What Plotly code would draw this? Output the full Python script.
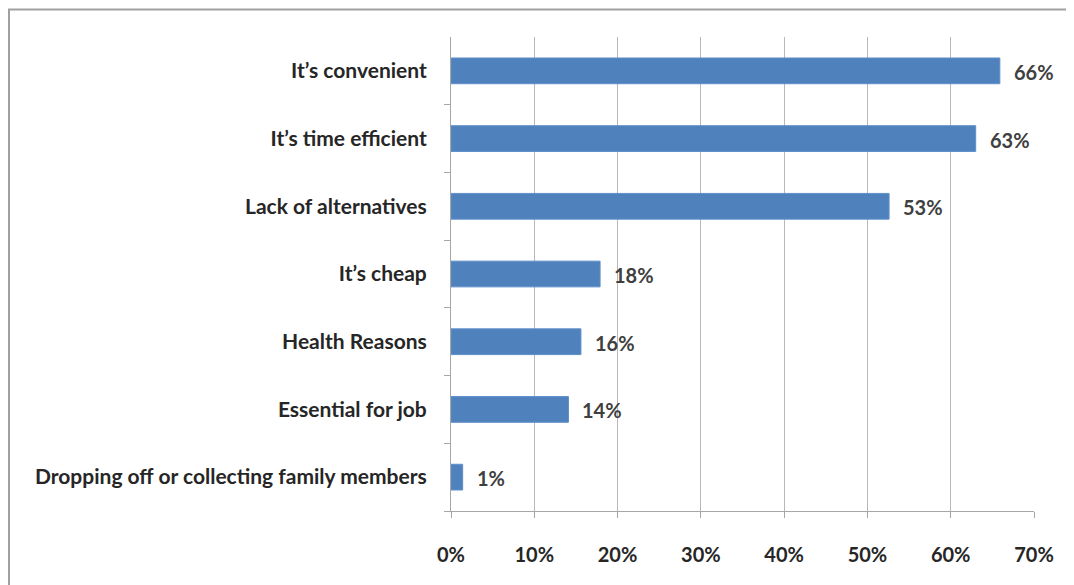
import plotly.graph_objects as go

categories = [
    "It\u2019s convenient",
    "It\u2019s time efficient",
    "Lack of alternatives",
    "It\u2019s cheap",
    "Health Reasons",
    "Essential for job",
    "Dropping off or collecting family members",
]
values = [65.9, 63.0, 52.6, 17.9, 15.6, 14.1, 1.4]
value_labels = ["66%", "63%", "53%", "18%", "16%", "14%", "1%"]
x_ticks = [0, 10, 20, 30, 40, 50, 60, 70]
x_tick_labels = [f"{t}%" for t in x_ticks]

FONT = "Lato, 'Open Sans', sans-serif"
FSIZE = 20

fig = go.Figure(
    go.Bar(
        x=values,
        y=categories,
        orientation="h",
        marker=dict(color="#4F81BD", line=dict(color="#5F8FCA", width=1)),
        width=0.38,
        hoverinfo="x+y",
    )
)

for c, v, t in zip(categories, values, value_labels):
    fig.add_annotation(
        x=v, y=c, text=f"<b>{t}</b>", showarrow=False,
        xanchor="left", yanchor="middle", xshift=12, yshift=-1,
        font=dict(family=FONT, size=FSIZE, color="#404040"),
    )

# the page body has an 8px default margin: figure sits at (8, 8) in the window
W, H = 1066, 577
L, T = 443, 29
R = W - 1026
B = H - 503
pw, ph = W - L - R, H - T - B

fig.update_layout(
    width=W,
    height=H,
    margin=dict(l=L, r=R, t=T, b=B),
    paper_bgcolor="white",
    plot_bgcolor="white",
    showlegend=False,
    font=dict(family=FONT, size=FSIZE, color="#262626"),
)
fig.update_xaxes(
    range=[0, 70],
    tickvals=x_ticks,
    ticktext=[f"<b>{t}</b>" for t in x_tick_labels],
    showgrid=True,
    gridcolor="#B8B8B8",
    gridwidth=1,
    showline=True,
    linecolor="#A6A6A6",
    linewidth=1,
    ticks="outside",
    ticklen=6,
    tickcolor="#A6A6A6",
    zeroline=False,
    tickfont=dict(family=FONT, size=FSIZE, color="#262626"),
    ticklabelstandoff=20,
    fixedrange=True,
)
fig.update_yaxes(
    categoryorder="array",
    categoryarray=categories[::-1],
    autorange=False,
    range=[-0.5, len(categories) - 0.5],
    tickvals=categories,
    ticktext=[f"<b>{c}</b>" for c in categories],
    showline=True,
    linecolor="#A6A6A6",
    linewidth=1,
    ticks="outside",
    tickson="boundaries",
    ticklen=6,
    tickcolor="#A6A6A6",
    showgrid=False,
    tickfont=dict(family=FONT, size=21, color="#262626"),
    ticklabelstandoff=19,
    fixedrange=True,
)

# outer chart frame (top and left edges visible, rest cropped)
x0 = (1 - L) / pw
x1 = (W + 10 - L) / pw
y_top = (H - B - 1.5) / ph
y_bot = -(B + 10) / ph
fig.add_shape(type="rect", xref="paper", yref="paper", x0=x0, x1=x1, y0=y_bot, y1=y_top,
              line=dict(color="#A0A0A0", width=2), fillcolor="rgba(0,0,0,0)", layer="below")

fig.write_html("out.html")
